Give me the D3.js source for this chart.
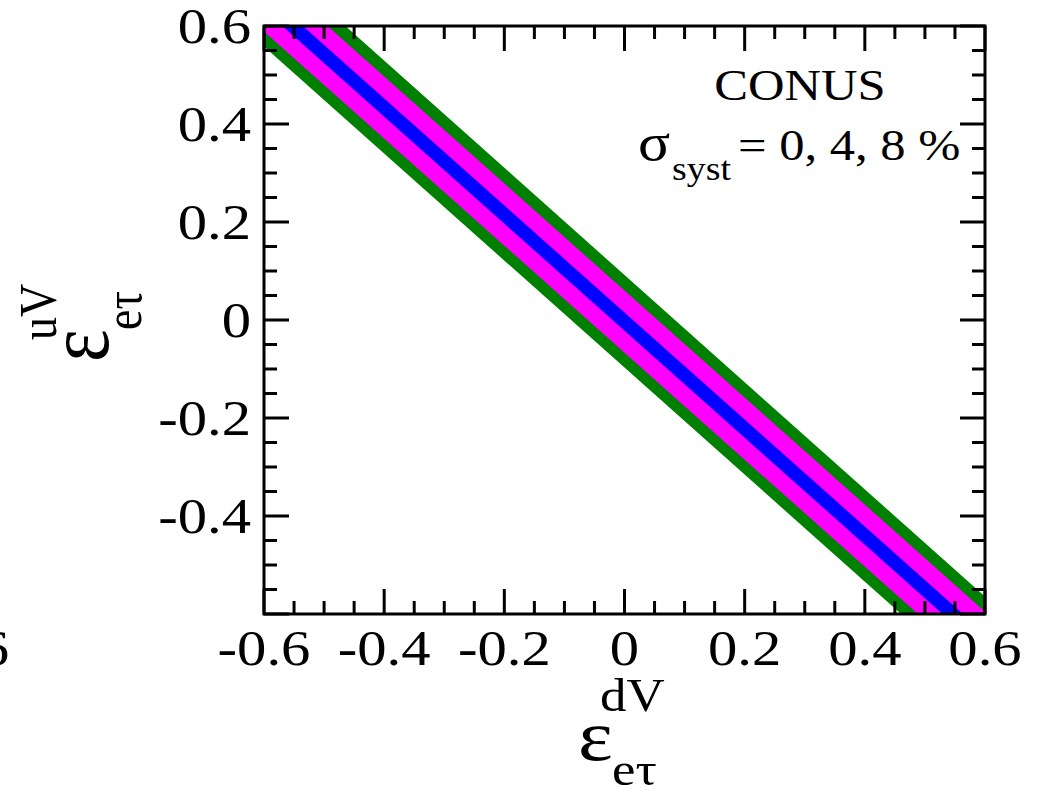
<!DOCTYPE html>
<meta charset="utf-8">
<script src="https://d3js.org/d3.v7.min.js"></script>
<style>
  body { margin: 0; background: #fff; }
  text { font-family: "Liberation Serif", "DejaVu Serif", serif; fill: #000; }
</style>
<div id="chart"></div>
<script>

// canvas and plot frame
const width = 1043, height = 793;
const plot = {left: 264, right: 985, top: 26, bottom: 614};
const stretch = 1.15;   // the original figure is a bit wider than tall

// axis ticks
const xTicks = [-0.6, -0.4, -0.2, 0, 0.2, 0.4, 0.6];
const yTicks = [-0.4, -0.2, 0, 0.2, 0.4, 0.6];
const minorStep = 0.05;

// allowed bands: x of the left / right edge at bandY[0] and bandY[1]
const bandY = [0.7, -0.7];
const sigmaNames = ["8 %", "4 %", "0 %"];
const bandColors = ["#008000", "#ff00ff", "#0000ff"];
const leftEdge  = [[-0.730, 0.552], [-0.702, 0.580], [-0.661, 0.621]];
const rightEdge = [[-0.556, 0.724], [-0.586, 0.696], [-0.627, 0.655]];

const svg = d3.select("#chart").append("svg")
  .attr("width", width)
  .attr("height", height);

const x = d3.scaleLinear().domain([-0.6, 0.6]).range([plot.left, plot.right]);
const y = d3.scaleLinear().domain([-0.6, 0.6]).range([plot.bottom, plot.top]);

svg.append("clipPath").attr("id", "clip")
  .append("rect")
    .attr("x", plot.left).attr("y", plot.top)
    .attr("width", plot.right - plot.left).attr("height", plot.bottom - plot.top);

// bands, widest first
const bands = sigmaNames.map((s, i) => ({
  name: s,
  color: bandColors[i],
  pts: [[leftEdge[i][0], bandY[0]], [rightEdge[i][0], bandY[0]],
        [rightEdge[i][1], bandY[1]], [leftEdge[i][1], bandY[1]]]
}));

svg.append("g").attr("clip-path", "url(#clip)")
  .selectAll("path")
  .data(bands)
  .join("path")
    .attr("d", d => d3.line().x(p => x(p[0])).y(p => y(p[1]))(d.pts) + "Z")
    .attr("fill", d => d.color);

// ticks on all four sides, pointing inwards
const majorLen = 25, minorLen = 13;
const allTicks = d3.range(-0.6, 0.6 + 1e-9, minorStep).map(v => ({
  v: v,
  major: Math.abs(Math.round(v / 0.2) * 0.2 - v) < 1e-6
}));
const tickG = svg.append("g").attr("stroke", "#000").attr("stroke-width", 3);
allTicks.forEach(t => {
  const L = t.major ? majorLen : minorLen;
  tickG.append("line").attr("x1", x(t.v)).attr("x2", x(t.v)).attr("y1", plot.bottom).attr("y2", plot.bottom - L);
  tickG.append("line").attr("x1", x(t.v)).attr("x2", x(t.v)).attr("y1", plot.top).attr("y2", plot.top + L);
  tickG.append("line").attr("y1", y(t.v)).attr("y2", y(t.v)).attr("x1", plot.left).attr("x2", plot.left + L);
  tickG.append("line").attr("y1", y(t.v)).attr("y2", y(t.v)).attr("x1", plot.right).attr("x2", plot.right - L);
});

svg.append("rect")
  .attr("x", plot.left).attr("y", plot.top)
  .attr("width", plot.right - plot.left).attr("height", plot.bottom - plot.top)
  .attr("fill", "none").attr("stroke", "#000").attr("stroke-width", 3);

// text helper: horizontally stretched text
function txt(parent, px, py, str, size, anchor) {
  return parent.append("text")
    .attr("transform", `translate(${px},${py}) scale(${stretch},1)`)
    .attr("text-anchor", anchor || "start")
    .attr("font-size", size)
    .text(str);
}

// plain hyphen for the minus sign, like the original
const fmt = v => v === 0 ? "0" : v.toFixed(1);

xTicks.forEach(v => txt(svg, x(v), 665, fmt(v), 51, "middle"));
yTicks.forEach(v => txt(svg, 251, y(v) + 17, fmt(v), 51, "end"));

// cut-off label of the neighbouring panel
txt(svg, 9, 665, "0.6", 51, "end");

// x axis title
txt(svg, 578, 760, "ε", 72);
txt(svg, 600, 711, "dV", 46);
txt(svg, 612, 785, "eτ", 46);

// y axis title (rotated)
const yt = svg.append("g").attr("transform", `translate(108,362) scale(${stretch},1) rotate(-90)`);
yt.append("text").attr("font-size", 78).attr("x", 0).attr("y", 0).text("ε");
yt.append("text").attr("font-size", 46).attr("x", 22).attr("y", -45).text("uV");
yt.append("text").attr("font-size", 46).attr("x", 32).attr("y", 29).text("eτ");

// legend
txt(svg, 800, 100, "CONUS", 44, "middle");
txt(svg, 638, 160, "σ", 52);
txt(svg, 672, 180, "syst", 33);
txt(svg, 738, 160, "= 0, 4, 8 %", 44);

</script>
